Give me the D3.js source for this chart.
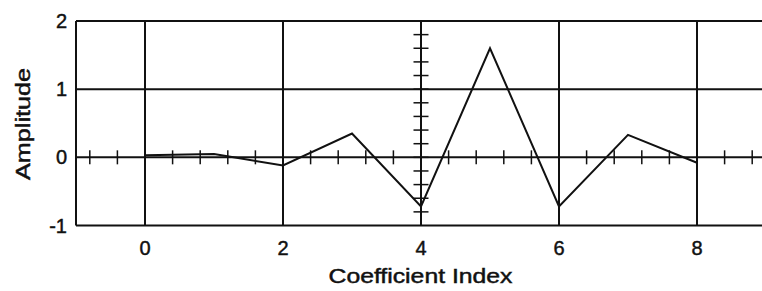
<!DOCTYPE html>
<html>
<head>
<meta charset="utf-8">
<script src="https://cdn.jsdelivr.net/npm/d3@7"></script>
<style>
  body { margin: 0; background: #fff; }
  text { font-family: "Liberation Sans", Arial, sans-serif; fill: #111; stroke: #111; stroke-width: 0.45; }
</style>
</head>
<body>
<svg id="chart"></svg>
<script>
// coefficient values
var indices = [0, 1, 2, 3, 4, 5, 6, 7, 8]
var amplitudes = [0.03, 0.05, -0.12, 0.35, -0.72, 1.60, -0.72, 0.33, -0.08]

var xGrid = [0, 2, 4, 6, 8]
var yGrid = [-1, 0, 1, 2]
var xTickLabels = ["0", "2", "4", "6", "8"]
var yTickLabels = ["-1", "0", "1", "2"]
var xMinor = d3.range(-0.8, 9, 0.4)
var yMinor = d3.range(-0.8, 2, 0.2)

var width = 762, height = 291
var margin = {top: 21, bottom: 65.5, left: 76, right: -4}

var svg = d3.select("#chart")
    .attr("width", width)
    .attr("height", height)

var x = d3.scaleLinear().domain([-1, 9]).range([margin.left, width - margin.right])
var y = d3.scaleLinear().domain([-1, 2]).range([height - margin.bottom, margin.top])

var ink = "#111"

//grid lines
svg.append("g").selectAll("line").data(xGrid).enter().append("line")
   .attr("x1", d => x(d)).attr("x2", d => x(d))
   .attr("y1", y(2)).attr("y2", y(-1))
   .attr("stroke", ink).attr("stroke-width", 2)

svg.append("g").selectAll("line").data(yGrid).enter().append("line")
   .attr("x1", x(-1)).attr("x2", x(9))
   .attr("y1", d => y(d)).attr("y2", d => y(d))
   .attr("stroke", ink).attr("stroke-width", 2)

//left frame
svg.append("line")
   .attr("x1", x(-1)).attr("x2", x(-1))
   .attr("y1", y(2)).attr("y2", y(-1))
   .attr("stroke", ink).attr("stroke-width", 2)

//minor ticks crossing the x axis (y = 0)
svg.append("g").selectAll("line").data(xMinor).enter().append("line")
   .attr("x1", d => x(d)).attr("x2", d => x(d))
   .attr("y1", y(0) - 7).attr("y2", y(0) + 7)
   .attr("stroke", ink).attr("stroke-width", 1.5)

//minor ticks crossing the y axis (x = 4)
svg.append("g").selectAll("line").data(yMinor).enter().append("line")
   .attr("x1", x(4) - 7.5).attr("x2", x(4) + 7.5)
   .attr("y1", d => y(d)).attr("y2", d => y(d))
   .attr("stroke", ink).attr("stroke-width", 1.5)

//tick labels
svg.append("g").selectAll("text").data(xGrid).enter().append("text")
   .attr("x", d => x(d)).attr("y", y(-1) + 29)
   .attr("text-anchor", "middle")
   .attr("font-size", 20)
   .text((d, i) => xTickLabels[i])

svg.append("g").selectAll("text").data(yGrid).enter().append("text")
   .attr("x", x(-1) - 9).attr("y", d => y(d) + 7)
   .attr("text-anchor", "end")
   .attr("font-size", 20)
   .text((d, i) => yTickLabels[i])

//axis titles
svg.append("text")
   .attr("x", 420.5).attr("y", 283)
   .attr("text-anchor", "middle")
   .attr("font-size", 19.5)
   .attr("textLength", 184).attr("lengthAdjust", "spacingAndGlyphs")
   .text("Coefficient Index")

svg.append("text")
   .attr("transform", "translate(30," + 124 + ") rotate(-90)")
   .attr("text-anchor", "middle")
   .attr("font-size", 19.5)
   .attr("textLength", 112).attr("lengthAdjust", "spacingAndGlyphs")
   .text("Amplitude")

//data line
var line = d3.line()
    .x((d, i) => x(indices[i]))
    .y(d => y(d))

svg.append("path")
   .datum(amplitudes)
   .attr("d", line)
   .attr("fill", "none")
   .attr("stroke", ink)
   .attr("stroke-width", 2)
   .attr("stroke-linejoin", "miter")
</script>
</body>
</html>
